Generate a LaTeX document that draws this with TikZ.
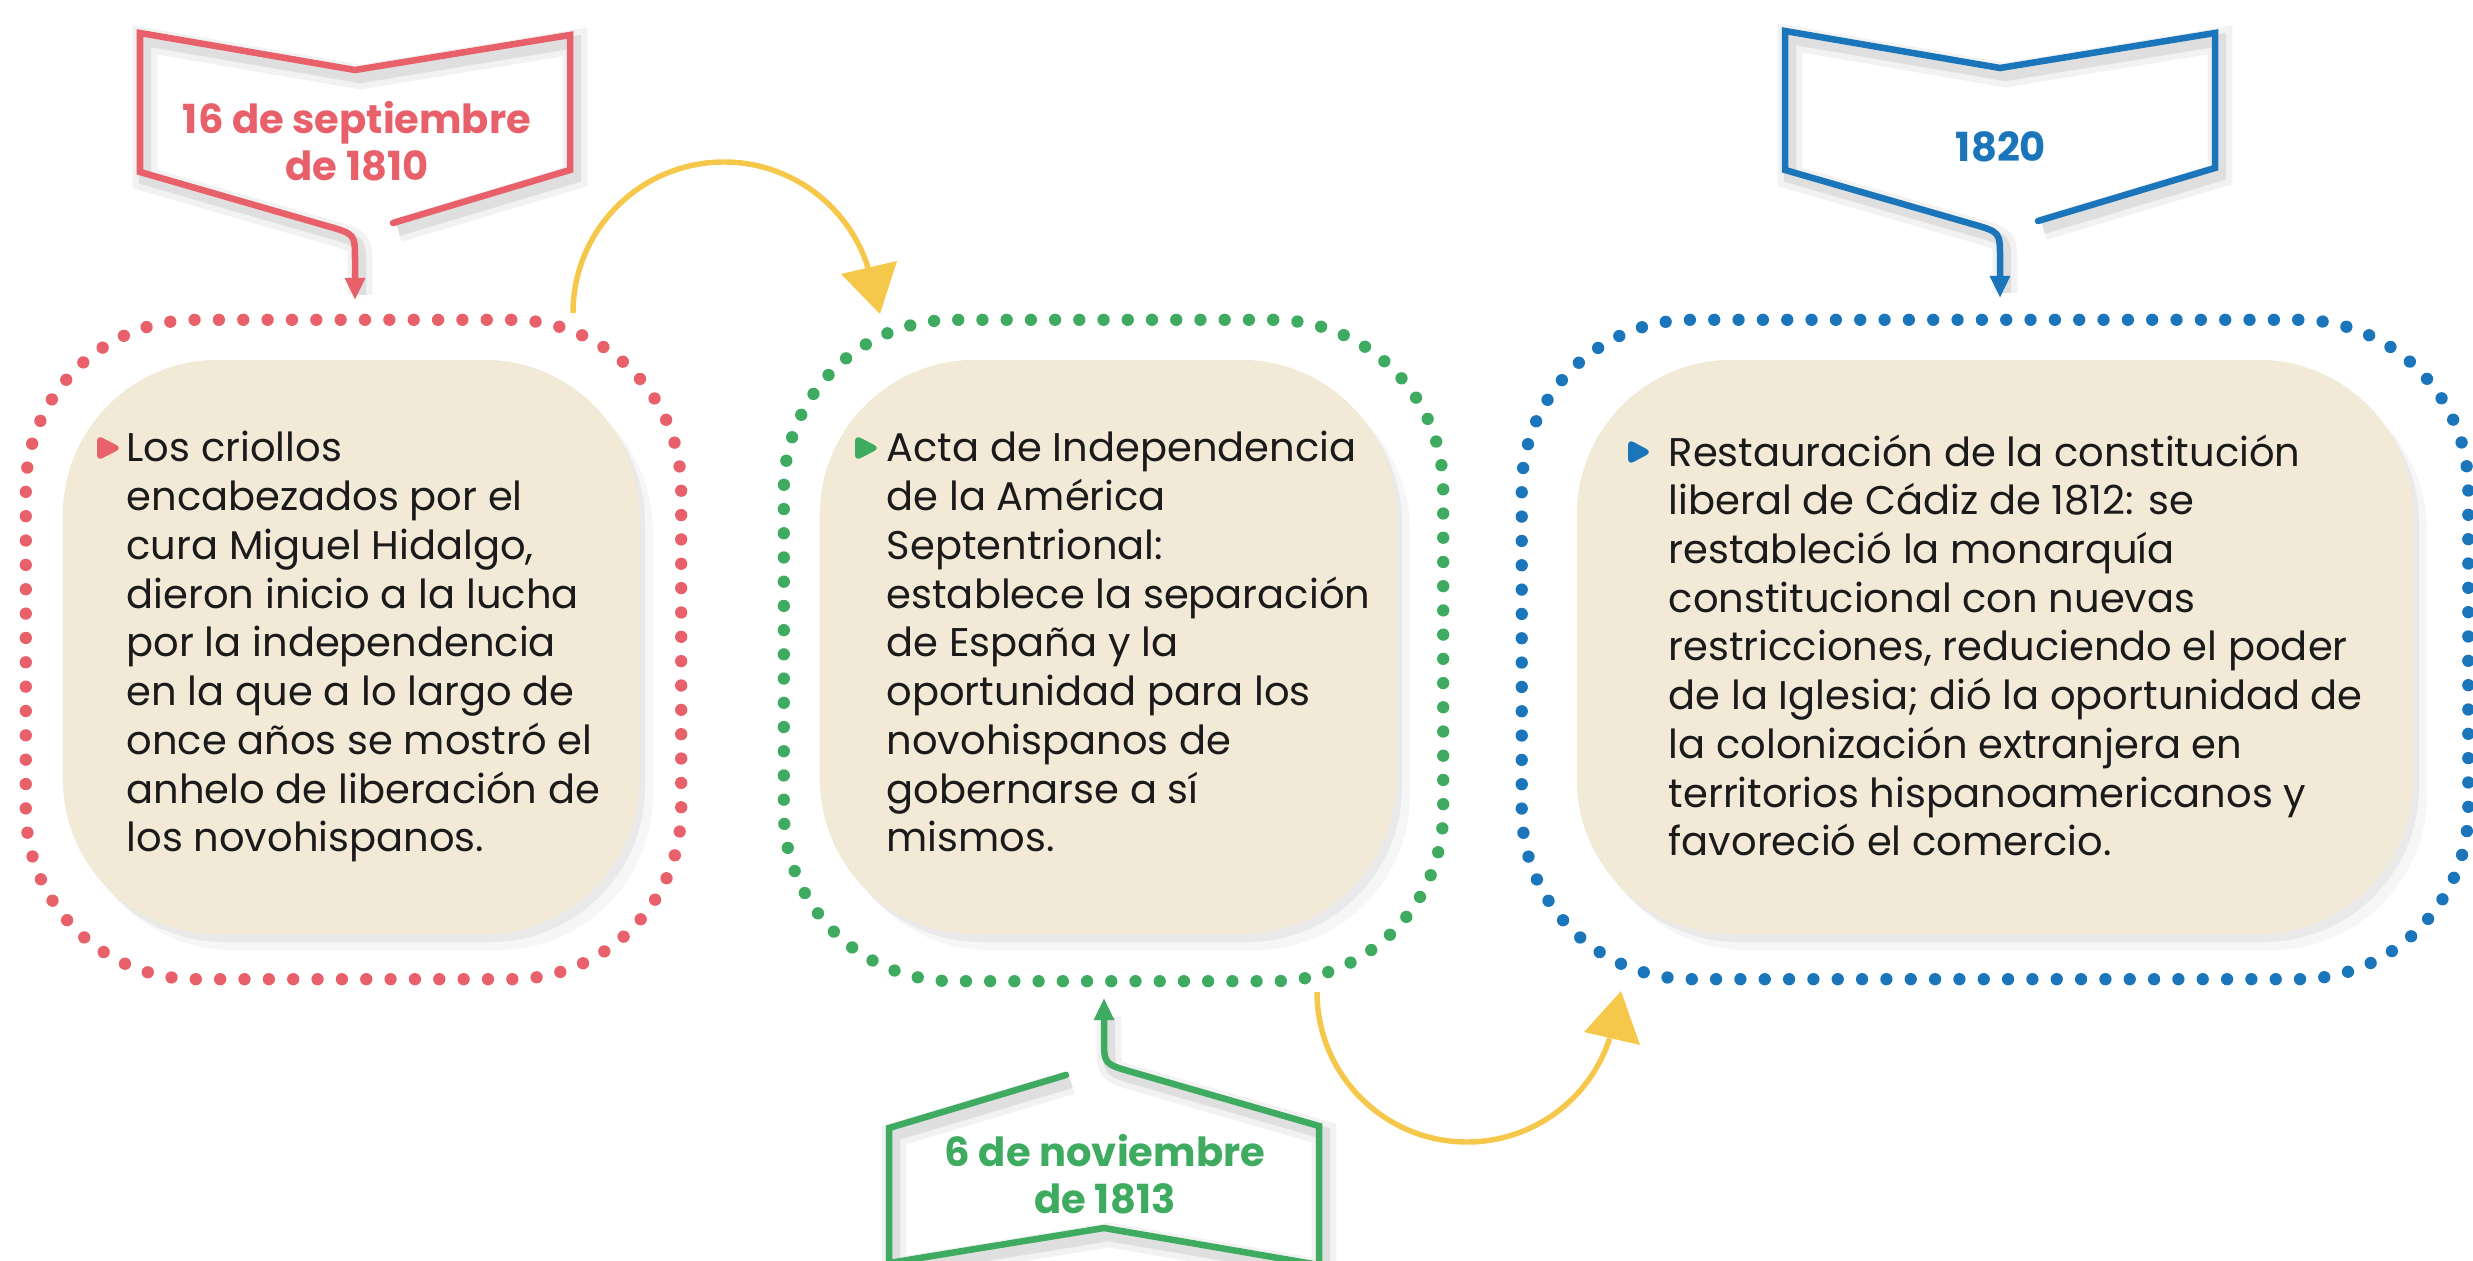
\documentclass[tikz,border=0pt]{standalone}
\usepackage{fontspec}
\setmainfont{Poppins}
\usetikzlibrary{arrows.meta}
\definecolor{cred}{HTML}{E8606A}
\definecolor{cgreen}{HTML}{3EAB60}
\definecolor{cblue}{HTML}{1B75BB}
\definecolor{cyellow}{HTML}{F5C84C}
\definecolor{cbeige}{HTML}{F2E9D6}
\definecolor{ctext}{HTML}{1A1A1A}
\tikzset{
  dotbox/.style={draw=#1, line width=3.5pt, line cap=round, rounded corners=1.7cm, inner sep=0pt, outer sep=0pt},
  dotgap/.style={dash pattern=on 0pt off #1pt},
  beigebox/.style={fill=cbeige, rounded corners=1.55cm, inner sep=0pt, minimum height=5.74cm},
  bshadow/.style={fill=black, opacity=#1, rounded corners=1.55cm},
  bodytext/.style={anchor=base west, inner sep=0pt, text=ctext, font=\fontsize{11.38}{13.86}\selectfont},
  datelbl/.style={align=center, inner sep=0pt, font=\fontsize{11.4}{13.4}\selectfont\bfseries},
  bullet/.style={fill=#1, rounded corners=1.8pt},
  yline/.style={draw=cyellow, line width=1.55pt},
  yhead/.style={fill=cyellow},
  pics/datebox/.style 2 args={code={
    \draw[black, opacity=0.05, line width=7pt, line join=miter, shift={(#2)}] (38,-77) -- (215,-130) -- (215,-265) -- (0,-230) -- (-215,-267) -- (-215,-128) -- (-28,-74) .. controls (0,-66) .. (0,-40) -- (0,-12);
    \draw[black, opacity=0.08, line width=3.5pt, line join=miter, shift={(#2)}] (38,-77) -- (215,-130) -- (215,-265) -- (0,-230) -- (-215,-267) -- (-215,-128) -- (-28,-74) .. controls (0,-66) .. (0,-40) -- (0,-12);
    \draw[#1, line width=1.85pt, line join=miter, line cap=round, -{Triangle[length=0.22cm,width=0.19cm]}] (38,-77) -- (215,-130) -- (215,-265) -- (0,-230) -- (-215,-267) -- (-215,-128) -- (-28,-74) .. controls (0,-66) .. (0,-40) -- (0,0);
  }},
}
\begin{document}
\begin{tikzpicture}[x=0.01cm, y=-0.01cm]
\useasboundingbox (0,0) rectangle (2473,1261);
\clip (0,0) rectangle (2473,1261);

% outer dotted frames
\node[dotbox=cred, dotgap=6.9237, minimum width=6.55cm, minimum height=6.59cm] (o1) at (353.5,649.5) {};
\node[dotbox=cgreen, dotgap=6.8876, minimum width=6.59cm, minimum height=6.61cm] (o2) at (1113.5,650.5) {};
\node[dotbox=cblue, dotgap=6.919, minimum width=9.46cm, minimum height=6.59cm] (o3) at (1995,649.5) {};

% beige shadows
\fill[bshadow=0.035] (77,376) rectangle (653,950);
\fill[bshadow=0.05] (69,368) rectangle (645,942);
\fill[bshadow=0.035] (834,376) rectangle (1410,950);
\fill[bshadow=0.05] (826,368) rectangle (1402,942);
\fill[bshadow=0.035] (1591,376) rectangle (2427,950);
\fill[bshadow=0.05] (1583,368) rectangle (2419,942);

% beige boxes
\node[beigebox, minimum width=5.76cm] (b1) at (351,647) {};
\node[beigebox, minimum width=5.76cm] (b2) at (1108,647) {};
\node[beigebox, minimum width=8.36cm] (b3) at (1995,647) {};

% bullets
\fill[bullet=cred] (97,435) -- (122,448) -- (97,461) -- cycle;
\fill[bullet=cgreen] (855,435) -- (880,448) -- (855,461) -- cycle;
\fill[bullet=cblue] (1628,439) -- (1652,452) -- (1628,465) -- cycle;

% texts
\node[bodytext] (t1) at (126,462) {\parbox[t]{6cm}{Los criollos\\encabezados por el\\cura Miguel Hidalgo,\\dieron inicio a la lucha\\por la independencia\\en la que a lo largo de\\once años se mostró el\\anhelo de liberación de\\los novohispanos.}};
\node[bodytext] (t2) at (886,462) {\parbox[t]{6cm}{Acta de Independencia\\de la América\\Septentrional:\\establece la separación\\de España y la\\oportunidad para los\\novohispanos de\\gobernarse a sí\\mismos.}};
\node[bodytext] (t3) at (1668,466) {\parbox[t]{8cm}{Restauración de la constitución\\liberal de Cádiz de 1812: se\\restableció la monarquía\\constitucional con nuevas\\restricciones, reduciendo el poder\\de la Iglesia; dió la oportunidad de\\la colonización extranjera en\\territorios hispanoamericanos y\\favoreció el comercio.}};

% date boxes
\pic at (355,300) {datebox={cred}{5,7}};
\pic at (2000,298) {datebox={cblue}{5,7}};
\pic[rotate=180] at (1104,998) {datebox={cgreen}{-5,-7}};

\node[datelbl, text=cred] (l1) at (357,141) {16 de septiembre\\de 1810};
\node[datelbl, text=cgreen] (l2) at (1105,1174) {6 de noviembre\\de 1813};
\node[datelbl, text=cblue] (l3) at (2001,147) {1820};

% yellow connectors
\coordinate (y1s) at (573,313);
\coordinate (y2s) at (1317,992);
\draw[yline] (y1s) arc[start angle=180, end angle=342.6, radius=151];
\fill[yhead] (841,274) -- (897,261) -- (880,314) -- cycle;
\draw[yline] (y2s) arc[start angle=180, end angle=18, radius=150];
\fill[yhead] (1584,1032) -- (1640,1045) -- (1621,991) -- cycle;
\end{tikzpicture}
\end{document}
